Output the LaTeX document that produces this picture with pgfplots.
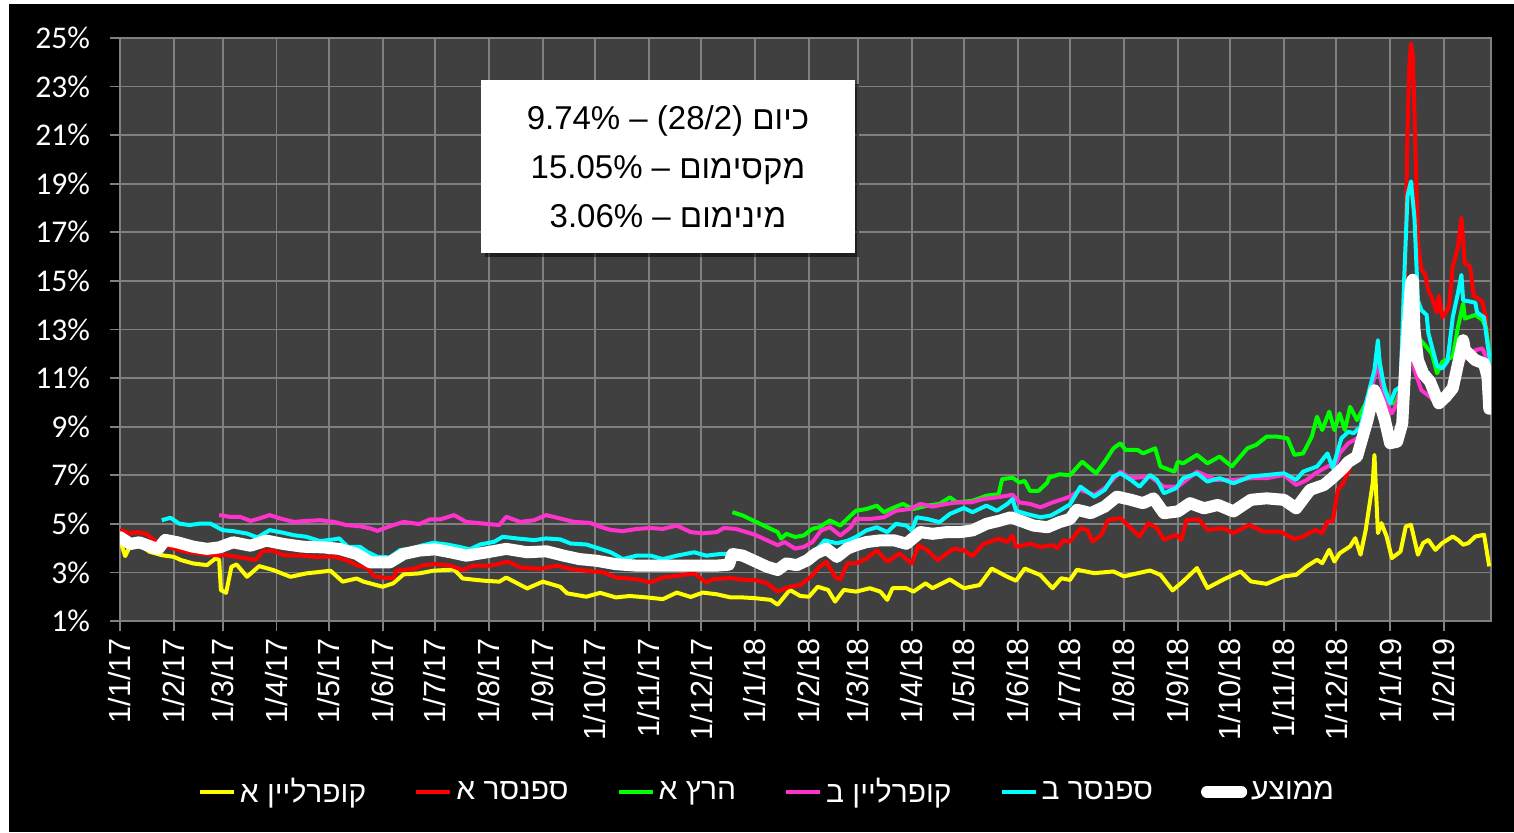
\documentclass[border=0pt]{standalone}
\usepackage{fontspec}
\setmainfont{Liberation Sans}
\newfontfamily\heb[Script=Hebrew]{Liberation Sans}
\newfontfamily\calfont{Carlito}
\TeXXeTstate=1
\usepackage{pgfplots}
\pgfplotsset{compat=1.18}
\usetikzlibrary{shadows}
\definecolor{plotbg}{RGB}{64,64,64}
\definecolor{gridc}{RGB}{128,128,128}
\definecolor{cyel}{RGB}{255,255,0}
\definecolor{cred}{RGB}{255,0,0}
\definecolor{cgrn}{RGB}{0,255,0}
\definecolor{cpnk}{RGB}{255,51,204}
\definecolor{ccyn}{RGB}{0,255,255}
\begin{document}
\begin{tikzpicture}
\path[use as bounding box] (-60pt,-105.5pt) rectangle (697pt,310.5pt);
\fill[black] (-55.5pt,-105.5pt) rectangle (697pt,308.5pt);
\begin{axis}[
 scale only axis, width=685.5pt, height=291.5pt,
 xmin=0, xmax=788, ymin=1, ymax=25,
 axis background/.style={fill=plotbg},
 axis line style={gridc, line width=0.9pt},
 grid=major, major grid style={gridc, line width=0.9pt},
 tick style={gridc, line width=0.9pt},
 tick align=outside, major tick length=5pt,
 xtick pos=bottom, ytick pos=left,
 xtick={0,31,59,90,120,151,181,212,243,273,304,334,365,396,424,455,485,516,546,577,608,638,669,699,730,761},
 xticklabels={1/1/17,1/2/17,1/3/17,1/4/17,1/5/17,1/6/17,1/7/17,1/8/17,1/9/17,1/10/17,1/11/17,1/12/17,1/1/18,1/2/18,1/3/18,1/4/18,1/5/18,1/6/18,1/7/18,1/8/18,1/9/18,1/10/18,1/11/18,1/12/18,1/1/19,1/2/19},
 ytick={1,3,5,7,9,11,13,15,17,19,21,23,25},
 yticklabels={1\%,3\%,5\%,7\%,9\%,11\%,13\%,15\%,17\%,19\%,21\%,23\%,25\%},
 x tick label style={rotate=90, anchor=east, font=\fontsize{15.3}{15.3}\selectfont, text=white},
 y tick label style={font=\calfont\fontsize{15.8}{15.8}\selectfont, text=white, xshift=-6.5pt},
 legend columns=6,
 legend style={draw=none, fill=none, text=white, font=\heb\fontsize{15}{15}\selectfont,
   at={(0.4726,-0.293)}, anchor=center,
   /tikz/every even column/.append style={column sep=22pt}},
 every axis plot/.append style={line join=round},
]
\addplot[cyel, line width=2pt] coordinates {(0,4.33)(3,3.67)(6,4.12)(13,4.05)(17,3.85)(24,3.71)(31,3.64)(35,3.51)(42,3.37)(50,3.30)(55,3.58)(57,3.51)(58,2.27)(61,2.16)(64,3.23)(67,3.33)(73,2.82)(80,3.26)(88,3.10)(98,2.82)(107,2.96)(121,3.07)(128,2.62)(136,2.75)(140,2.62)(151,2.41)(157,2.55)(163,2.92)(172,2.96)(180,3.07)(192,3.12)(197,2.75)(209,2.66)(218,2.62)(222,2.79)(234,2.34)(243,2.62)(253,2.41)(257,2.14)(268,2.00)(276,2.16)(285,1.97)(293,2.03)(303,1.97)(312,1.90)(320,2.17)(328,1.99)(335,2.17)(343,2.10)(351,1.97)(358,1.97)(365,1.94)(374,1.87)(378,1.67)(385,2.28)(391,2.03)(396,2.00)(401,2.41)(407,2.28)(411,1.80)(416,2.28)(423,2.21)(431,2.35)(437,2.21)(441,1.87)(444,2.35)(452,2.35)(456,2.21)(463,2.55)(467,2.35)(477,2.71)(485,2.35)(494,2.48)(501,3.16)(510,2.82)(515,2.66)(520,3.16)(529,2.89)(536,2.35)(541,2.76)(546,2.69)(550,3.11)(560,2.97)(571,3.04)(577,2.84)(592,3.08)(598,2.90)(605,2.26)(611,2.63)(619,3.18)(625,2.36)(634,2.70)(644,3.04)(650,2.63)(659,2.53)(669,2.84)(676,2.90)(682,3.25)(688,3.52)(691,3.38)(695,3.93)(698,3.45)(701,3.79)(707,4.07)(710,4.41)(713,3.73)(716,4.75)(720,6.67)(721,7.84)(723,4.62)(725,5.03)(728,4.48)(731,3.59)(736,3.86)(739,4.89)(742,4.96)(746,3.73)(749,4.21)(752,4.34)(756,3.93)(760,4.21)(766,4.48)(769,4.34)(772,4.14)(775,4.21)(779,4.48)(784,4.55)(787,3.25)};
\addlegendentry{\beginR קופרליין א\endR}
\addplot[cred, line width=2pt] coordinates {(0,4.75)(6,4.60)(10,4.66)(15,4.59)(20,4.31)(30,4.0)(38,3.85)(46,3.77)(57,3.70)(61,3.71)(71,3.60)(78,3.51)(82,3.88)(88,3.90)(94,3.71)(103,3.70)(113,3.64)(123,3.65)(130,3.51)(136,3.30)(142,3.20)(146,2.85)(151,2.79)(157,2.75)(159,3.08)(169,3.15)(174,3.29)(181,3.34)(190,3.28)(197,3.10)(203,3.28)(213,3.28)(223,3.44)(230,3.21)(241,3.14)(251,3.28)(259,3.14)(268,3.07)(278,3.0)(285,2.79)(297,2.72)(305,2.59)(312,2.79)(320,2.86)(330,2.96)(337,2.59)(341,2.72)(351,2.77)(358,2.70)(365,2.69)(372,2.55)(378,2.21)(385,2.41)(391,2.48)(397,2.82)(402,3.23)(406,3.44)(411,2.82)(414,2.71)(418,3.37)(423,3.37)(429,3.57)(435,3.91)(441,3.44)(448,3.78)(455,3.37)(459,4.12)(464,3.91)(470,3.50)(479,3.98)(485,3.91)(490,3.67)(496,4.16)(505,4.39)(510,4.25)(513,4.52)(515,4.05)(523,4.18)(529,4.05)(536,4.12)(539,4.0)(542,4.32)(546,4.27)(552,4.82)(556,4.75)(559,4.27)(564,4.55)(568,5.16)(575,5.23)(581,4.82)(586,4.48)(591,5.03)(596,4.82)(600,4.34)(607,4.55)(610,4.34)(613,5.16)(620,5.19)(625,4.75)(634,4.82)(640,4.62)(649,4.96)(657,4.68)(667,4.68)(675,4.37)(680,4.48)(687,4.75)(691,4.62)(694,5.10)(697,5.10)(700,6.40)(703,6.67)(706,7.15)(709,7.77)(713,8.18)(717,8.93)(721,9.82)(724,10.23)(727,9.55)(730,8.18)(734,8.38)(737,9.41)(738,12.5)(739,17.0)(740,21.1)(741,23.8)(742,24.77)(743,24.3)(744,22.0)(746,16.5)(748,15.45)(750,15.3)(752,14.6)(754,14.3)(757,13.7)(758,14.4)(760,13.5)(762,13.7)(764,14.0)(766,15.6)(769,16.4)(771,17.6)(773,15.7)(776,15.6)(778,14.4)(783,14.15)(785,13.5)(787,11.5)};
\addlegendentry{\beginR ספנסר א\endR}
\addplot[cgrn, line width=2pt] coordinates {(352,5.48)(358,5.34)(365,5.10)(372,4.86)(378,4.66)(380,4.39)(383,4.59)(388,4.46)(393,4.52)(398,4.80)(402,4.86)(408,5.14)(414,4.93)(420,5.34)(423,5.54)(429,5.61)(435,5.75)(439,5.48)(445,5.68)(450,5.82)(456,5.61)(464,5.75)(471,5.82)(477,6.09)(481,5.88)(490,5.95)(498,6.16)(505,6.22)(507,6.84)(513,6.90)(517,6.70)(520,6.77)(523,6.36)(528,6.36)(533,6.70)(534,6.90)(540,7.04)(546,7.0)(553,7.56)(561,7.08)(566,7.56)(571,8.11)(575,8.32)(578,8.04)(585,8.04)(588,7.90)(595,8.11)(598,7.36)(606,7.15)(608,7.56)(611,7.49)(619,7.84)(625,7.49)(632,7.77)(639,7.36)(648,8.11)(653,8.25)(659,8.59)(665,8.59)(671,8.52)(675,7.84)(680,7.90)(685,8.59)(688,9.41)(691,8.86)(695,9.62)(698,8.86)(701,9.55)(704,8.86)(707,9.82)(711,9.27)(716,9.96)(720,10.78)(723,12.15)(726,10.78)(730,9.96)(733,9.96)(736,10.5)(739,12.0)(742,13.5)(744,13.0)(747,12.6)(750,12.36)(754,12.0)(757,11.2)(760,11.67)(766,11.88)(769,13.1)(772,14.07)(773,13.45)(779,13.6)(783,13.4)(785,13.1)(788,11.5)};
\addlegendentry{\beginR הרץ א\endR}
\addplot[cpnk, line width=2pt] coordinates {(57,5.36)(63,5.29)(69,5.29)(75,5.12)(80,5.22)(86,5.36)(92,5.22)(100,5.08)(107,5.12)(115,5.15)(123,5.08)(130,4.95)(138,4.90)(144,4.81)(148,4.71)(155,4.90)(163,5.08)(172,4.99)(178,5.18)(184,5.18)(192,5.36)(199,5.08)(209,5.01)(218,4.95)(222,5.29)(230,5.08)(238,5.15)(245,5.36)(253,5.22)(261,5.08)(270,5.04)(276,4.88)(282,4.75)(289,4.70)(297,4.79)(305,4.83)(312,4.79)(320,4.93)(328,4.66)(335,4.61)(343,4.66)(347,4.83)(354,4.79)(360,4.66)(365,4.55)(372,4.32)(378,4.12)(382,4.25)(388,3.98)(393,4.05)(398,4.25)(403,4.73)(408,4.86)(414,4.52)(420,4.86)(423,5.20)(431,5.20)(439,5.27)(446,5.54)(454,5.61)(460,5.82)(467,5.71)(475,5.82)(481,5.88)(489,5.88)(496,6.02)(504,6.09)(510,6.16)(513,6.20)(517,5.88)(523,5.82)(529,5.68)(536,5.88)(542,6.02)(546,6.12)(552,6.40)(560,6.19)(566,6.47)(575,7.15)(581,6.88)(592,6.95)(600,6.53)(608,6.53)(619,7.15)(630,6.81)(640,6.81)(650,6.88)(659,6.88)(669,7.01)(676,6.60)(682,6.8)(687,7.08)(694,7.36)(699,7.49)(701,7.90)(706,8.32)(713,8.59)(717,9.82)(721,11.05)(723,11.60)(725,10.78)(728,9.96)(731,9.55)(734,9.96)(736,10.5)(739,11.5)(742,12.5)(744,11.33)(748,10.5)(753,10.23)(757,9.89)(760,9.89)(766,10.5)(772,11.74)(779,12.15)(783,12.22)(786,11.74)(788,11.46)};
\addlegendentry{\beginR קופרליין ב\endR}
\addplot[ccyn, line width=2pt] coordinates {(24,5.15)(29,5.25)(34,5.01)(40,4.95)(46,5.01)(52,5.01)(59,4.74)(65,4.70)(73,4.60)(79,4.44)(86,4.74)(94,4.63)(100,4.53)(107,4.47)(115,4.29)(123,4.36)(126,4.40)(131,4.05)(138,4.05)(142,3.85)(148,3.64)(155,3.62)(161,3.92)(169,3.99)(174,4.12)(180,4.22)(188,4.15)(195,4.05)(201,3.95)(207,4.15)(215,4.26)(220,4.47)(228,4.40)(238,4.33)(245,4.40)(253,4.36)(259,4.19)(268,4.15)(276,3.97)(282,3.83)(289,3.55)(297,3.69)(305,3.69)(312,3.55)(320,3.69)(330,3.83)(337,3.69)(345,3.76)(352,3.76)(360,3.6)(368,3.4)(375,3.2)(380,3.1)(388,3.3)(395,3.5)(400,3.9)(405,4.32)(412,4.2)(418,4.3)(423,4.46)(429,4.73)(435,4.86)(441,4.66)(446,5.0)(452,4.93)(455,4.73)(458,5.27)(464,5.20)(471,5.07)(477,5.41)(485,5.65)(490,5.48)(498,5.75)(504,5.54)(510,5.82)(513,6.02)(515,5.54)(521,5.41)(529,5.27)(535,5.34)(540,5.54)(546,5.80)(552,6.53)(560,6.12)(566,6.40)(571,6.95)(575,7.08)(581,6.81)(586,6.53)(592,7.01)(596,6.81)(600,6.26)(607,6.47)(611,6.88)(619,7.08)(625,6.74)(632,6.88)(640,6.67)(650,6.95)(659,7.01)(669,7.08)(676,6.81)(680,7.15)(688,7.36)(694,7.90)(697,7.29)(702,8.52)(706,8.79)(709,8.73)(713,9.0)(717,10.23)(721,11.33)(723,12.56)(724,11.60)(727,10.5)(730,9.96)(733,10.5)(736,10.64)(738,14.9)(740,18.5)(742,19.1)(744,17.6)(746,14.2)(748,13.8)(751,13.6)(752,12.85)(754,12.3)(757,11.5)(760,11.4)(763,11.7)(766,13.5)(769,14.5)(771,15.25)(772,14.2)(776,14.15)(779,14.1)(780,13.7)(784,13.5)(786,12.4)(788,11.5)};
\addlegendentry{\beginR ספנסר ב\endR}
\addplot[white, line width=6pt, line cap=round] coordinates {(0,4.45)(6,4.17)(11,4.24)(19,4.03)(22,3.97)(26,4.34)(33,4.24)(42,4.06)(50,3.97)(57,4.03)(65,4.24)(75,4.10)(84,4.31)(94,4.17)(105,4.06)(117,4.03)(126,3.97)(136,3.76)(144,3.41)(155,3.41)(163,3.76)(172,3.90)(181,3.95)(190,3.83)(199,3.69)(211,3.83)(222,3.97)(234,3.83)(245,3.87)(255,3.69)(264,3.55)(274,3.48)(285,3.34)(297,3.28)(308,3.28)(320,3.28)(331,3.28)(343,3.28)(350,3.32)(352,3.76)(358,3.69)(365,3.46)(372,3.23)(378,3.10)(383,3.37)(389,3.30)(395,3.50)(400,3.78)(406,3.98)(412,3.64)(418,3.98)(423,4.12)(429,4.25)(437,4.32)(445,4.32)(452,4.18)(460,4.66)(467,4.59)(475,4.66)(483,4.66)(490,4.73)(498,5.0)(506,5.14)(512,5.27)(517,5.14)(525,4.93)(533,4.86)(540,5.07)(546,5.20)(550,5.58)(558,5.44)(566,5.71)(573,6.12)(581,5.99)(588,5.85)(594,6.05)(600,5.44)(608,5.51)(615,5.85)(623,5.64)(631,5.78)(640,5.51)(650,5.99)(659,6.05)(669,5.99)(676,5.64)(684,6.40)(692,6.60)(697,6.90)(703,7.30)(706,7.55)(711,7.77)(717,9.27)(721,10.5)(724,9.96)(727,9.27)(730,8.32)(734,8.38)(737,9.14)(739,11.88)(742,14.9)(743,15.05)(744,13.0)(746,11.74)(749,11.19)(753,10.85)(758,9.96)(762,10.23)(766,10.58)(772,12.56)(773,12.15)(779,11.74)(784,11.6)(786,11.05)(787,9.74)};
\addlegendentry{\beginR ממוצע\endR}
\node[fill=white, minimum width=187pt, minimum height=86.5pt, align=center,
  font=\fontsize{16.5}{24.5}\selectfont, text=black,
  drop shadow={shadow xshift=2pt, shadow yshift=-2pt, fill=black, opacity=0.5}]
  at (rel axis cs:0.3997,0.7796)
  {9.74\% – (28/2) \beginR כיום\endR\\
   15.05\% – \beginR מקסימום\endR\\
   3.06\% – \beginR מינימום\endR};
\end{axis}
\end{tikzpicture}
\end{document}
